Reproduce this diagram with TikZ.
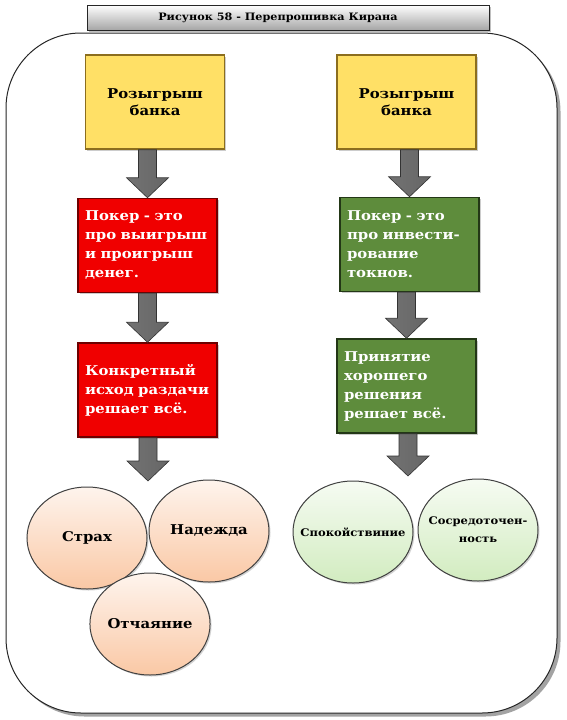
\documentclass[tikz,border=0pt]{standalone}
\usepackage{fontspec}
\setmainfont{DejaVu Serif}
\newfontfamily\widefont{DejaVu Serif}[FakeStretch=1.1]
\usetikzlibrary{positioning,calc,shapes.geometric,shadows}
\definecolor{bankyellow}{RGB}{255,224,102}
\definecolor{bankedge}{RGB}{140,110,30}
\definecolor{lossred}{RGB}{240,0,0}
\definecolor{lossedge}{RGB}{110,0,0}
\definecolor{calmgreen}{RGB}{94,140,60}
\definecolor{calmedge}{RGB}{35,55,22}
\definecolor{peach}{RGB}{250,200,165}
\definecolor{mint}{RGB}{210,236,192}
\newcommand\blockarrow[2]{%
  \path[arrowshape] let \p1=(#1.south), \p2=(#2) in
    (\x2-9pt,\y1) -- (\x2+9pt,\y1) -- (\x2+9pt,\y2+20pt) -- (\x2+21pt,\y2+20pt)
    -- (\x2,\y2) -- (\x2-21pt,\y2+20pt) -- (\x2-9pt,\y2+20pt) -- cycle;}
\newcommand\balltext[1]{\makebox[60pt]{#1}}

\begin{document}
\begin{tikzpicture}[x=1pt, y=-1pt,
      bankbox/.style={rectangle, draw=bankedge, line width=1.5pt, fill=bankyellow,
                      minimum width=139pt, minimum height=94pt, align=center,
                      font=\widefont\bfseries\fontsize{13.5}{17}\selectfont,
                      drop shadow={shadow xshift=1.5pt, shadow yshift=-1.5pt, opacity=.4}},
      lossbox/.style={rectangle, draw=lossedge, line width=1.5pt, fill=lossred, text=white,
                      text width=125pt, inner xsep=7pt, minimum height=94pt, align=left,
                      font=\widefont\bfseries\fontsize{13.5}{19}\selectfont,
                      drop shadow={shadow xshift=1.5pt, shadow yshift=-1.5pt, opacity=.4}},
      calmbox/.style={lossbox, draw=calmedge, fill=calmgreen},
      fearball/.style={ellipse, draw=black!75, line width=1pt, top color=peach!20,
                       bottom color=peach, minimum width=120pt, minimum height=102pt,
                       inner sep=0pt, align=center,
                       font=\widefont\bfseries\fontsize{13.5}{16}\selectfont,
                       drop shadow={shadow xshift=1.5pt, shadow yshift=-1.5pt, opacity=.35}},
      calmball/.style={fearball, top color=mint!20, bottom color=mint,
                       font=\widefont\bfseries\fontsize{10.5}{18}\selectfont},
      arrowshape/.style={draw=black!80, line width=.6pt, left color=black!55,
                         middle color=black!25, right color=black!60}]
  \useasboundingbox (0,0) rectangle (567,720);

  % outer frame and title
  \draw[fill=white, draw=black!85, line width=1pt, rounded corners=75pt,
        drop shadow={shadow xshift=3.5pt, shadow yshift=-3.5pt, fill=black!45, opacity=.8}]
        (6,33) rectangle (557,713);
  \node[rectangle, draw=black!85, line width=1pt, top color=white, bottom color=black!35,
        minimum width=402pt, minimum height=25pt,
        font=\widefont\bfseries\fontsize{10.2}{12}\selectfont,
        drop shadow={shadow xshift=2pt, shadow yshift=-2pt, opacity=.5}]
        (title) at (288,17.5) {\hspace*{-20pt}Рисунок 58 - Перепрошивка Кирана};

  % left column
  \node[bankbox] (bankL) at (155,102) {Розыгрыш\\банка};
  \node[lossbox, below=48pt of bankL, xshift=-7.5pt] (moneyL) {Покер - это\\про выигрыш\\и проигрыш\\денег.};
  \node[lossbox, below=49pt of moneyL] (outcome) {Конкретный\\исход раздачи\\решает всё.};
  \coordinate (tipL) at (148,481);

  \node[fearball] (fear) at (87,538) {Страх};
  \node[fearball] (hope) at (209,531) {Надежда};
  \node[fearball] (despair) at (150,624) {Отчаяние};

  % right column
  \node[bankbox] (bankR) at (406.5,102) {Розыгрыш\\банка};
  \node[calmbox, below=47pt of bankR, xshift=3pt] (investR) {Покер - это\\про инвести-\\рование\\токнов.};
  \node[calmbox, below=46pt of investR, xshift=-3pt] (decision) {Принятие\\хорошего\\решения\\решает всё.};
  \coordinate (tipR) at (408,476);

  \node[calmball] (calm) at (353,532) {\balltext{Спокойствиние}};
  \node[calmball] (focus) at (478,530) {\balltext{Сосредоточен-}\\\balltext{ность}};

  % block arrows
  \blockarrow{bankL}{moneyL.north}
  \blockarrow{moneyL}{outcome.north}
  \blockarrow{outcome}{tipL}
  \blockarrow{bankR}{investR.north}
  \blockarrow{investR}{decision.north}
  \blockarrow{decision}{tipR}
\end{tikzpicture}
\end{document}
